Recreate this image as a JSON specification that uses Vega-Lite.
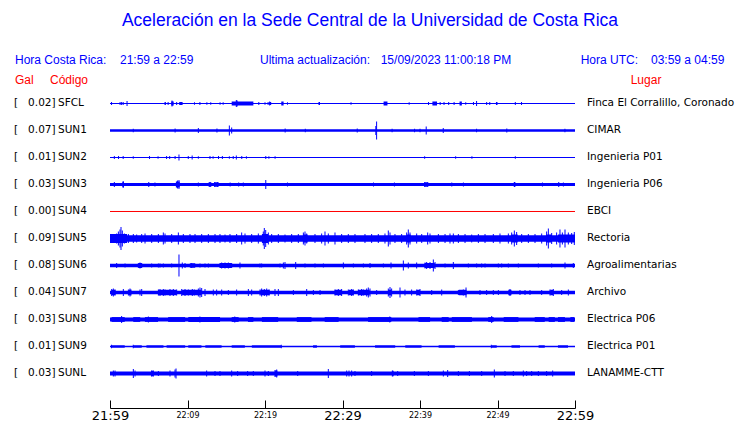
{
  "$schema": "https://vega.github.io/schema/vega-lite/v6.json",
  "width": 465,
  "height": 408,
  "autosize": {"type": "none"},
  "padding": {"left": 110, "right": 165, "top": 0, "bottom": 15},
  "background": "white",
  "config": {"view": {"stroke": null}},
  "datasets": {
    "stations": [
      {"s": "SFCL", "r": 0, "gal": "0.02", "place": "Finca El Corralillo, Coronado"},
      {"s": "SUN1", "r": 1, "gal": "0.07", "place": "CIMAR"},
      {"s": "SUN2", "r": 2, "gal": "0.01", "place": "Ingenieria P01"},
      {"s": "SUN3", "r": 3, "gal": "0.03", "place": "Ingenieria P06"},
      {"s": "SUN4", "r": 4, "gal": "0.00", "place": "EBCI"},
      {"s": "SUN5", "r": 5, "gal": "0.09", "place": "Rectoria"},
      {"s": "SUN6", "r": 6, "gal": "0.08", "place": "Agroalimentarias"},
      {"s": "SUN7", "r": 7, "gal": "0.04", "place": "Archivo"},
      {"s": "SUN8", "r": 8, "gal": "0.03", "place": "Electrica P06"},
      {"s": "SUN9", "r": 9, "gal": "0.01", "place": "Electrica P01"},
      {"s": "SUNL", "r": 10, "gal": "0.03", "place": "LANAMME-CTT"}
    ],
    "segs": [
      {"s": "SFCL", "t0": 0, "t1": 60, "w": 1.2},
      {"s": "SFCL", "t0": 15.7, "t1": 18.5, "w": 4},
      {"s": "SFCL", "t0": 7.1, "t1": 7.2, "w": 3},
      {"s": "SFCL", "t0": 7.9, "t1": 8.2, "w": 4},
      {"s": "SFCL", "t0": 9.0, "t1": 9.3, "w": 3},
      {"s": "SFCL", "t0": 20.6, "t1": 20.8, "w": 3},
      {"s": "SFCL", "t0": 22.1, "t1": 22.4, "w": 4},
      {"s": "SFCL", "t0": 26.9, "t1": 27.1, "w": 3},
      {"s": "SFCL", "t0": 35.3, "t1": 35.8, "w": 4},
      {"s": "SFCL", "t0": 41.6, "t1": 42.2, "w": 4},
      {"s": "SFCL", "t0": 45.1, "t1": 45.4, "w": 4},
      {"s": "SFCL", "t0": 49.8, "t1": 50.0, "w": 3},
      {"s": "SUN1", "t0": 0, "t1": 60, "w": 2.7},
      {"s": "SUN2", "t0": 0, "t1": 60, "w": 1.2},
      {"s": "SUN3", "t0": 0, "t1": 60, "w": 3},
      {"s": "SUN3", "t0": 1.6, "t1": 1.8, "w": 5},
      {"s": "SUN3", "t0": 8.5, "t1": 9.0, "w": 6},
      {"s": "SUN3", "t0": 12.8, "t1": 13.0, "w": 4.5},
      {"s": "SUN3", "t0": 13.5, "t1": 14.0, "w": 4.5},
      {"s": "SUN3", "t0": 40.6, "t1": 41.0, "w": 4.5},
      {"s": "SUN3", "t0": 52.1, "t1": 52.3, "w": 5},
      {"s": "SUN4", "t0": 0, "t1": 60, "w": 1},
      {"s": "SUN5", "t0": 0, "t1": 60, "w": 6.5},
      {"s": "SUN5", "t0": 0, "t1": 2.2, "w": 9},
      {"s": "SUN5", "t0": 19.6, "t1": 20.4, "w": 9},
      {"s": "SUN5", "t0": 24.9, "t1": 25.5, "w": 8},
      {"s": "SUN5", "t0": 38.3, "t1": 38.8, "w": 8},
      {"s": "SUN5", "t0": 51.8, "t1": 52.6, "w": 8},
      {"s": "SUN5", "t0": 56.3, "t1": 57.0, "w": 8},
      {"s": "SUN5", "t0": 57.8, "t1": 60, "w": 8},
      {"s": "SUN6", "t0": 0, "t1": 60, "w": 3.3},
      {"s": "SUN6", "t0": 3.7, "t1": 4.1, "w": 5},
      {"s": "SUN6", "t0": 10.3, "t1": 11.0, "w": 4.5},
      {"s": "SUN6", "t0": 14.2, "t1": 15.7, "w": 5},
      {"s": "SUN6", "t0": 40.6, "t1": 41.9, "w": 5},
      {"s": "SUN7", "t0": 0, "t1": 60, "w": 3.7},
      {"s": "SUN7", "t0": 0.2, "t1": 0.7, "w": 5.5},
      {"s": "SUN7", "t0": 2.4, "t1": 2.7, "w": 5.5},
      {"s": "SUN7", "t0": 6.2, "t1": 8.6, "w": 5.5},
      {"s": "SUN7", "t0": 9.3, "t1": 11.8, "w": 5.5},
      {"s": "SUN7", "t0": 19.4, "t1": 20.6, "w": 5.5},
      {"s": "SUN7", "t0": 29.0, "t1": 29.9, "w": 5.5},
      {"s": "SUN7", "t0": 30.8, "t1": 31.4, "w": 5.5},
      {"s": "SUN7", "t0": 32.0, "t1": 33.5, "w": 5.5},
      {"s": "SUN7", "t0": 35.9, "t1": 36.3, "w": 5.5},
      {"s": "SUN7", "t0": 39.6, "t1": 40.0, "w": 5.5},
      {"s": "SUN7", "t0": 45.0, "t1": 46.0, "w": 5.5},
      {"s": "SUN7", "t0": 51.4, "t1": 51.8, "w": 5.5},
      {"s": "SUN7", "t0": 56.8, "t1": 57.2, "w": 5.5},
      {"s": "SUN8", "t0": 0, "t1": 60, "w": 4},
      {"s": "SUN8", "t0": 0.2, "t1": 1.9, "w": 4.8},
      {"s": "SUN8", "t0": 3.0, "t1": 3.9, "w": 4.8},
      {"s": "SUN8", "t0": 4.5, "t1": 6.2, "w": 4.8},
      {"s": "SUN8", "t0": 7.5, "t1": 9.7, "w": 4.8},
      {"s": "SUN8", "t0": 10.1, "t1": 14.2, "w": 4.8},
      {"s": "SUN8", "t0": 15.7, "t1": 16.6, "w": 4.8},
      {"s": "SUN8", "t0": 17.8, "t1": 18.5, "w": 4.8},
      {"s": "SUN8", "t0": 19.6, "t1": 21.7, "w": 4.8},
      {"s": "SUN8", "t0": 24.1, "t1": 26.0, "w": 4.8},
      {"s": "SUN8", "t0": 27.7, "t1": 29.5, "w": 4.8},
      {"s": "SUN8", "t0": 33.3, "t1": 36.3, "w": 4.8},
      {"s": "SUN8", "t0": 39.8, "t1": 41.3, "w": 4.8},
      {"s": "SUN8", "t0": 42.8, "t1": 43.7, "w": 4.8},
      {"s": "SUN8", "t0": 44.1, "t1": 46.7, "w": 4.8},
      {"s": "SUN8", "t0": 48.8, "t1": 49.5, "w": 4.8},
      {"s": "SUN8", "t0": 50.8, "t1": 52.7, "w": 4.8},
      {"s": "SUN8", "t0": 54.8, "t1": 56.1, "w": 4.8},
      {"s": "SUN8", "t0": 56.6, "t1": 57.4, "w": 4.8},
      {"s": "SUN8", "t0": 57.8, "t1": 58.7, "w": 4.8},
      {"s": "SUN8", "t0": 59.4, "t1": 59.9, "w": 4.8},
      {"s": "SUN9", "t0": 0, "t1": 60, "w": 1.4},
      {"s": "SUN9", "t0": 0.2, "t1": 1.9, "w": 2.4},
      {"s": "SUN9", "t0": 3.0, "t1": 4.1, "w": 2.4},
      {"s": "SUN9", "t0": 4.7, "t1": 6.9, "w": 2.4},
      {"s": "SUN9", "t0": 7.3, "t1": 9.7, "w": 2.4},
      {"s": "SUN9", "t0": 10.1, "t1": 11.8, "w": 2.4},
      {"s": "SUN9", "t0": 12.3, "t1": 14.4, "w": 2.4},
      {"s": "SUN9", "t0": 15.7, "t1": 17.4, "w": 2.4},
      {"s": "SUN9", "t0": 18.3, "t1": 22.1, "w": 2.4},
      {"s": "SUN9", "t0": 26.2, "t1": 26.7, "w": 2.4},
      {"s": "SUN9", "t0": 29.7, "t1": 31.6, "w": 2.4},
      {"s": "SUN9", "t0": 34.2, "t1": 36.8, "w": 2.4},
      {"s": "SUN9", "t0": 38.1, "t1": 40.2, "w": 2.4},
      {"s": "SUN9", "t0": 42.4, "t1": 44.5, "w": 2.4},
      {"s": "SUN9", "t0": 49.2, "t1": 49.9, "w": 2.4},
      {"s": "SUN9", "t0": 51.8, "t1": 52.9, "w": 2.4},
      {"s": "SUN9", "t0": 55.3, "t1": 56.1, "w": 2.4},
      {"s": "SUN9", "t0": 57.8, "t1": 59.1, "w": 2.4},
      {"s": "SUNL", "t0": 0, "t1": 60, "w": 4},
      {"s": "SUNL", "t0": 5.3, "t1": 5.6, "w": 5.5},
      {"s": "SUNL", "t0": 21.3, "t1": 21.6, "w": 6},
      {"s": "SUNL", "t0": 36.4, "t1": 36.6, "w": 5.5}
    ],
    "ticks": [
      {"s": "SFCL", "t": 0.2, "a": 3}, {"s": "SFCL", "t": 1.3, "a": 3}, {"s": "SFCL", "t": 1.5, "a": 3}, {"s": "SFCL", "t": 1.7, "a": 3},
      {"s": "SFCL", "t": 2.2, "a": 5}, {"s": "SFCL", "t": 7.1, "a": 3}, {"s": "SFCL", "t": 7.5, "a": 3}, {"s": "SFCL", "t": 8.0, "a": 6},
      {"s": "SFCL", "t": 8.1, "a": 4}, {"s": "SFCL", "t": 8.6, "a": 3}, {"s": "SFCL", "t": 9.0, "a": 3}, {"s": "SFCL", "t": 9.3, "a": 3},
      {"s": "SFCL", "t": 10.9, "a": 2.5}, {"s": "SFCL", "t": 11.6, "a": 3}, {"s": "SFCL", "t": 12.5, "a": 2.5}, {"s": "SFCL", "t": 13.0, "a": 2.5},
      {"s": "SFCL", "t": 14.2, "a": 2.5}, {"s": "SFCL", "t": 14.6, "a": 2.5}, {"s": "SFCL", "t": 16.3, "a": 7}, {"s": "SFCL", "t": 16.4, "a": 6},
      {"s": "SFCL", "t": 19.2, "a": 3}, {"s": "SFCL", "t": 20.0, "a": 2.5}, {"s": "SFCL", "t": 20.4, "a": 3}, {"s": "SFCL", "t": 20.6, "a": 4},
      {"s": "SFCL", "t": 22.9, "a": 2.5}, {"s": "SFCL", "t": 31.1, "a": 2.5}, {"s": "SFCL", "t": 38.6, "a": 2.5}, {"s": "SFCL", "t": 41.1, "a": 3},
      {"s": "SFCL", "t": 42.6, "a": 3}, {"s": "SFCL", "t": 43.1, "a": 3}, {"s": "SFCL", "t": 43.7, "a": 3}, {"s": "SFCL", "t": 44.4, "a": 3},
      {"s": "SFCL", "t": 45.9, "a": 2.5}, {"s": "SFCL", "t": 46.9, "a": 3}, {"s": "SFCL", "t": 47.3, "a": 5}, {"s": "SFCL", "t": 48.6, "a": 3},
      {"s": "SFCL", "t": 49.0, "a": 3}, {"s": "SFCL", "t": 52.3, "a": 3}, {"s": "SFCL", "t": 53.1, "a": 3},
      {"s": "SUN1", "t": 3.0, "a": 3.5}, {"s": "SUN1", "t": 8.4, "a": 4}, {"s": "SUN1", "t": 11.4, "a": 5}, {"s": "SUN1", "t": 13.8, "a": 4},
      {"s": "SUN1", "t": 15.4, "a": 10}, {"s": "SUN1", "t": 15.7, "a": 6}, {"s": "SUN1", "t": 22.6, "a": 4}, {"s": "SUN1", "t": 25.2, "a": 3.5},
      {"s": "SUN1", "t": 31.9, "a": 4}, {"s": "SUN1", "t": 34.3, "a": 9}, {"s": "SUN1", "t": 34.4, "a": 18}, {"s": "SUN1", "t": 36.4, "a": 3.5},
      {"s": "SUN1", "t": 39.3, "a": 3.5}, {"s": "SUN1", "t": 40.0, "a": 3.5}, {"s": "SUN1", "t": 40.8, "a": 8}, {"s": "SUN1", "t": 43.0, "a": 5},
      {"s": "SUN1", "t": 47.3, "a": 3.5}, {"s": "SUN1", "t": 51.2, "a": 4}, {"s": "SUN1", "t": 58.7, "a": 3.5},
      {"s": "SUN2", "t": 0.56, "a": 3}, {"s": "SUN2", "t": 1.1, "a": 3}, {"s": "SUN2", "t": 1.7, "a": 3}, {"s": "SUN2", "t": 3.0, "a": 2.5},
      {"s": "SUN2", "t": 5.1, "a": 3}, {"s": "SUN2", "t": 6.2, "a": 2.5}, {"s": "SUN2", "t": 7.3, "a": 3}, {"s": "SUN2", "t": 7.7, "a": 3},
      {"s": "SUN2", "t": 8.4, "a": 3}, {"s": "SUN2", "t": 8.9, "a": 6}, {"s": "SUN2", "t": 10.1, "a": 3}, {"s": "SUN2", "t": 10.6, "a": 4},
      {"s": "SUN2", "t": 11.4, "a": 2.5}, {"s": "SUN2", "t": 12.9, "a": 3}, {"s": "SUN2", "t": 13.3, "a": 2.5}, {"s": "SUN2", "t": 14.0, "a": 3},
      {"s": "SUN2", "t": 14.5, "a": 3}, {"s": "SUN2", "t": 15.4, "a": 2.5}, {"s": "SUN2", "t": 15.9, "a": 3}, {"s": "SUN2", "t": 16.3, "a": 4},
      {"s": "SUN2", "t": 17.0, "a": 3}, {"s": "SUN2", "t": 17.6, "a": 2.5}, {"s": "SUN2", "t": 20.1, "a": 3}, {"s": "SUN2", "t": 20.5, "a": 2.5},
      {"s": "SUN2", "t": 21.3, "a": 2.5}, {"s": "SUN2", "t": 40.6, "a": 2.5}, {"s": "SUN2", "t": 44.6, "a": 2.5}, {"s": "SUN2", "t": 46.7, "a": 2.5},
      {"s": "SUN2", "t": 52.3, "a": 2.5},
      {"s": "SUN3", "t": 0.56, "a": 5}, {"s": "SUN3", "t": 1.7, "a": 7}, {"s": "SUN3", "t": 5.0, "a": 5}, {"s": "SUN3", "t": 5.8, "a": 4},
      {"s": "SUN3", "t": 8.7, "a": 8}, {"s": "SUN3", "t": 8.9, "a": 9}, {"s": "SUN3", "t": 11.4, "a": 4}, {"s": "SUN3", "t": 12.8, "a": 5},
      {"s": "SUN3", "t": 13.0, "a": 5}, {"s": "SUN3", "t": 13.5, "a": 5}, {"s": "SUN3", "t": 13.9, "a": 5}, {"s": "SUN3", "t": 15.5, "a": 4},
      {"s": "SUN3", "t": 16.6, "a": 4}, {"s": "SUN3", "t": 17.2, "a": 4}, {"s": "SUN3", "t": 20.1, "a": 9}, {"s": "SUN3", "t": 22.9, "a": 4},
      {"s": "SUN3", "t": 34.0, "a": 4}, {"s": "SUN3", "t": 36.7, "a": 4}, {"s": "SUN3", "t": 40.6, "a": 5}, {"s": "SUN3", "t": 41.0, "a": 5},
      {"s": "SUN3", "t": 44.1, "a": 4}, {"s": "SUN3", "t": 45.6, "a": 4}, {"s": "SUN3", "t": 52.2, "a": 5}, {"s": "SUN3", "t": 55.8, "a": 4},
      {"s": "SUN3", "t": 57.9, "a": 5}, {"s": "SUN3", "t": 58.5, "a": 4},
      {"s": "SUN5", "t": 0.43, "a": 8}, {"s": "SUN5", "t": 0.86, "a": 10}, {"s": "SUN5", "t": 1.08, "a": 14}, {"s": "SUN5", "t": 1.29, "a": 18},
      {"s": "SUN5", "t": 1.42, "a": 23}, {"s": "SUN5", "t": 1.59, "a": 16}, {"s": "SUN5", "t": 1.85, "a": 10}, {"s": "SUN5", "t": 2.37, "a": 9},
      {"s": "SUN5", "t": 3.01, "a": 9}, {"s": "SUN5", "t": 3.44, "a": 8}, {"s": "SUN5", "t": 4.09, "a": 9}, {"s": "SUN5", "t": 4.52, "a": 10},
      {"s": "SUN5", "t": 5.38, "a": 9}, {"s": "SUN5", "t": 6.24, "a": 9}, {"s": "SUN5", "t": 6.88, "a": 12}, {"s": "SUN5", "t": 7.10, "a": 10},
      {"s": "SUN5", "t": 7.96, "a": 9}, {"s": "SUN5", "t": 8.82, "a": 12}, {"s": "SUN5", "t": 9.46, "a": 9}, {"s": "SUN5", "t": 10.32, "a": 9},
      {"s": "SUN5", "t": 10.97, "a": 9}, {"s": "SUN5", "t": 11.83, "a": 9}, {"s": "SUN5", "t": 12.69, "a": 9}, {"s": "SUN5", "t": 13.55, "a": 9},
      {"s": "SUN5", "t": 14.19, "a": 9}, {"s": "SUN5", "t": 14.84, "a": 8}, {"s": "SUN5", "t": 15.48, "a": 9}, {"s": "SUN5", "t": 16.34, "a": 9},
      {"s": "SUN5", "t": 16.99, "a": 12}, {"s": "SUN5", "t": 17.42, "a": 10}, {"s": "SUN5", "t": 18.28, "a": 9}, {"s": "SUN5", "t": 19.14, "a": 10},
      {"s": "SUN5", "t": 19.78, "a": 14}, {"s": "SUN5", "t": 19.91, "a": 21}, {"s": "SUN5", "t": 20.09, "a": 17}, {"s": "SUN5", "t": 20.43, "a": 12},
      {"s": "SUN5", "t": 20.86, "a": 9}, {"s": "SUN5", "t": 21.72, "a": 9}, {"s": "SUN5", "t": 22.58, "a": 8}, {"s": "SUN5", "t": 23.44, "a": 9},
      {"s": "SUN5", "t": 24.30, "a": 9}, {"s": "SUN5", "t": 24.95, "a": 12}, {"s": "SUN5", "t": 25.16, "a": 14}, {"s": "SUN5", "t": 25.38, "a": 10},
      {"s": "SUN5", "t": 26.45, "a": 9}, {"s": "SUN5", "t": 27.31, "a": 10}, {"s": "SUN5", "t": 27.74, "a": 14}, {"s": "SUN5", "t": 28.17, "a": 10},
      {"s": "SUN5", "t": 29.03, "a": 12}, {"s": "SUN5", "t": 29.89, "a": 9}, {"s": "SUN5", "t": 30.75, "a": 9}, {"s": "SUN5", "t": 31.61, "a": 9},
      {"s": "SUN5", "t": 32.90, "a": 9}, {"s": "SUN5", "t": 33.76, "a": 9}, {"s": "SUN5", "t": 34.62, "a": 9}, {"s": "SUN5", "t": 35.48, "a": 10},
      {"s": "SUN5", "t": 35.91, "a": 16}, {"s": "SUN5", "t": 36.13, "a": 12}, {"s": "SUN5", "t": 36.77, "a": 9}, {"s": "SUN5", "t": 37.63, "a": 9},
      {"s": "SUN5", "t": 38.28, "a": 12}, {"s": "SUN5", "t": 38.49, "a": 18}, {"s": "SUN5", "t": 38.71, "a": 12}, {"s": "SUN5", "t": 39.57, "a": 10},
      {"s": "SUN5", "t": 40.22, "a": 9}, {"s": "SUN5", "t": 40.99, "a": 12}, {"s": "SUN5", "t": 41.29, "a": 10}, {"s": "SUN5", "t": 42.37, "a": 9},
      {"s": "SUN5", "t": 43.23, "a": 9}, {"s": "SUN5", "t": 43.87, "a": 10}, {"s": "SUN5", "t": 44.30, "a": 10}, {"s": "SUN5", "t": 44.95, "a": 9},
      {"s": "SUN5", "t": 45.81, "a": 9}, {"s": "SUN5", "t": 46.67, "a": 8}, {"s": "SUN5", "t": 47.53, "a": 9}, {"s": "SUN5", "t": 48.39, "a": 9},
      {"s": "SUN5", "t": 49.46, "a": 9}, {"s": "SUN5", "t": 50.32, "a": 10}, {"s": "SUN5", "t": 51.40, "a": 10}, {"s": "SUN5", "t": 51.83, "a": 12},
      {"s": "SUN5", "t": 52.17, "a": 16}, {"s": "SUN5", "t": 52.47, "a": 13}, {"s": "SUN5", "t": 53.12, "a": 9}, {"s": "SUN5", "t": 53.98, "a": 9},
      {"s": "SUN5", "t": 54.84, "a": 9}, {"s": "SUN5", "t": 55.70, "a": 10}, {"s": "SUN5", "t": 56.34, "a": 14}, {"s": "SUN5", "t": 56.56, "a": 20},
      {"s": "SUN5", "t": 56.99, "a": 11}, {"s": "SUN5", "t": 57.63, "a": 12}, {"s": "SUN5", "t": 58.06, "a": 18}, {"s": "SUN5", "t": 58.37, "a": 12},
      {"s": "SUN5", "t": 58.71, "a": 18}, {"s": "SUN5", "t": 59.14, "a": 12}, {"s": "SUN5", "t": 59.57, "a": 11}, {"s": "SUN5", "t": 59.91, "a": 13},
      {"s": "SUN6", "t": 0.86, "a": 5}, {"s": "SUN6", "t": 1.94, "a": 4}, {"s": "SUN6", "t": 3.66, "a": 5}, {"s": "SUN6", "t": 3.87, "a": 6},
      {"s": "SUN6", "t": 4.09, "a": 5}, {"s": "SUN6", "t": 5.38, "a": 4}, {"s": "SUN6", "t": 6.24, "a": 4}, {"s": "SUN6", "t": 6.45, "a": 4},
      {"s": "SUN6", "t": 6.88, "a": 4}, {"s": "SUN6", "t": 7.96, "a": 4}, {"s": "SUN6", "t": 8.90, "a": 22}, {"s": "SUN6", "t": 9.33, "a": 6},
      {"s": "SUN6", "t": 9.68, "a": 5}, {"s": "SUN6", "t": 10.54, "a": 5}, {"s": "SUN6", "t": 11.61, "a": 4}, {"s": "SUN6", "t": 12.26, "a": 4},
      {"s": "SUN6", "t": 12.69, "a": 4}, {"s": "SUN6", "t": 14.19, "a": 5}, {"s": "SUN6", "t": 14.41, "a": 6}, {"s": "SUN6", "t": 14.84, "a": 6},
      {"s": "SUN6", "t": 15.27, "a": 6}, {"s": "SUN6", "t": 15.70, "a": 5}, {"s": "SUN6", "t": 16.77, "a": 6}, {"s": "SUN6", "t": 19.35, "a": 4},
      {"s": "SUN6", "t": 19.57, "a": 4}, {"s": "SUN6", "t": 21.94, "a": 4}, {"s": "SUN6", "t": 22.37, "a": 6}, {"s": "SUN6", "t": 22.58, "a": 7},
      {"s": "SUN6", "t": 23.96, "a": 7}, {"s": "SUN6", "t": 25.16, "a": 4}, {"s": "SUN6", "t": 26.45, "a": 4}, {"s": "SUN6", "t": 27.53, "a": 4},
      {"s": "SUN6", "t": 30.11, "a": 6}, {"s": "SUN6", "t": 31.40, "a": 4}, {"s": "SUN6", "t": 32.69, "a": 4}, {"s": "SUN6", "t": 33.55, "a": 5},
      {"s": "SUN6", "t": 35.27, "a": 4}, {"s": "SUN6", "t": 36.26, "a": 6}, {"s": "SUN6", "t": 37.85, "a": 10}, {"s": "SUN6", "t": 38.49, "a": 6},
      {"s": "SUN6", "t": 39.57, "a": 6}, {"s": "SUN6", "t": 40.65, "a": 6}, {"s": "SUN6", "t": 40.86, "a": 7}, {"s": "SUN6", "t": 41.29, "a": 7},
      {"s": "SUN6", "t": 41.72, "a": 12}, {"s": "SUN6", "t": 41.94, "a": 7}, {"s": "SUN6", "t": 43.23, "a": 4}, {"s": "SUN6", "t": 44.30, "a": 7},
      {"s": "SUN6", "t": 46.24, "a": 4}, {"s": "SUN6", "t": 47.31, "a": 4}, {"s": "SUN6", "t": 47.96, "a": 4}, {"s": "SUN6", "t": 48.39, "a": 4},
      {"s": "SUN6", "t": 50.11, "a": 4}, {"s": "SUN6", "t": 50.54, "a": 4}, {"s": "SUN6", "t": 51.40, "a": 4}, {"s": "SUN6", "t": 52.69, "a": 4},
      {"s": "SUN6", "t": 55.27, "a": 4}, {"s": "SUN6", "t": 56.99, "a": 4}, {"s": "SUN6", "t": 58.71, "a": 6}, {"s": "SUN6", "t": 59.78, "a": 5},
      {"s": "SUN7", "t": 0.22, "a": 7}, {"s": "SUN7", "t": 0.43, "a": 8}, {"s": "SUN7", "t": 0.65, "a": 6}, {"s": "SUN7", "t": 1.72, "a": 7},
      {"s": "SUN7", "t": 2.37, "a": 6}, {"s": "SUN7", "t": 2.58, "a": 8}, {"s": "SUN7", "t": 2.71, "a": 6}, {"s": "SUN7", "t": 3.87, "a": 6},
      {"s": "SUN7", "t": 4.09, "a": 7}, {"s": "SUN7", "t": 6.24, "a": 6}, {"s": "SUN7", "t": 6.45, "a": 7}, {"s": "SUN7", "t": 6.88, "a": 7},
      {"s": "SUN7", "t": 7.10, "a": 6}, {"s": "SUN7", "t": 7.74, "a": 7}, {"s": "SUN7", "t": 8.17, "a": 7}, {"s": "SUN7", "t": 8.60, "a": 6},
      {"s": "SUN7", "t": 9.25, "a": 7}, {"s": "SUN7", "t": 9.68, "a": 7}, {"s": "SUN7", "t": 10.11, "a": 6}, {"s": "SUN7", "t": 10.62, "a": 7},
      {"s": "SUN7", "t": 10.88, "a": 6}, {"s": "SUN7", "t": 11.40, "a": 8}, {"s": "SUN7", "t": 11.61, "a": 10}, {"s": "SUN7", "t": 11.83, "a": 9},
      {"s": "SUN7", "t": 12.26, "a": 7}, {"s": "SUN7", "t": 13.33, "a": 6}, {"s": "SUN7", "t": 13.76, "a": 6}, {"s": "SUN7", "t": 14.41, "a": 6},
      {"s": "SUN7", "t": 15.27, "a": 5}, {"s": "SUN7", "t": 16.34, "a": 6}, {"s": "SUN7", "t": 17.85, "a": 7}, {"s": "SUN7", "t": 18.28, "a": 6},
      {"s": "SUN7", "t": 19.35, "a": 6}, {"s": "SUN7", "t": 19.57, "a": 8}, {"s": "SUN7", "t": 19.91, "a": 7}, {"s": "SUN7", "t": 20.22, "a": 8},
      {"s": "SUN7", "t": 20.52, "a": 6}, {"s": "SUN7", "t": 21.29, "a": 7}, {"s": "SUN7", "t": 21.72, "a": 7}, {"s": "SUN7", "t": 23.66, "a": 5},
      {"s": "SUN7", "t": 25.38, "a": 7}, {"s": "SUN7", "t": 26.24, "a": 5}, {"s": "SUN7", "t": 27.10, "a": 5}, {"s": "SUN7", "t": 29.03, "a": 6},
      {"s": "SUN7", "t": 29.46, "a": 7}, {"s": "SUN7", "t": 29.89, "a": 7}, {"s": "SUN7", "t": 30.75, "a": 6}, {"s": "SUN7", "t": 31.18, "a": 7},
      {"s": "SUN7", "t": 31.40, "a": 6}, {"s": "SUN7", "t": 32.04, "a": 6}, {"s": "SUN7", "t": 32.47, "a": 7}, {"s": "SUN7", "t": 32.69, "a": 6},
      {"s": "SUN7", "t": 33.12, "a": 8}, {"s": "SUN7", "t": 33.33, "a": 10}, {"s": "SUN7", "t": 33.55, "a": 8}, {"s": "SUN7", "t": 34.41, "a": 5},
      {"s": "SUN7", "t": 35.91, "a": 8}, {"s": "SUN7", "t": 36.13, "a": 11}, {"s": "SUN7", "t": 36.34, "a": 8}, {"s": "SUN7", "t": 37.42, "a": 10},
      {"s": "SUN7", "t": 38.06, "a": 6}, {"s": "SUN7", "t": 38.92, "a": 6}, {"s": "SUN7", "t": 39.57, "a": 6}, {"s": "SUN7", "t": 40.00, "a": 7},
      {"s": "SUN7", "t": 41.51, "a": 5}, {"s": "SUN7", "t": 42.80, "a": 6}, {"s": "SUN7", "t": 44.95, "a": 5}, {"s": "SUN7", "t": 45.59, "a": 6},
      {"s": "SUN7", "t": 45.94, "a": 10}, {"s": "SUN7", "t": 47.74, "a": 5}, {"s": "SUN7", "t": 48.60, "a": 5}, {"s": "SUN7", "t": 49.46, "a": 5},
      {"s": "SUN7", "t": 50.11, "a": 5}, {"s": "SUN7", "t": 51.61, "a": 7}, {"s": "SUN7", "t": 52.90, "a": 5}, {"s": "SUN7", "t": 53.55, "a": 5},
      {"s": "SUN7", "t": 54.19, "a": 5}, {"s": "SUN7", "t": 55.70, "a": 5}, {"s": "SUN7", "t": 56.77, "a": 6}, {"s": "SUN7", "t": 57.20, "a": 7},
      {"s": "SUN7", "t": 58.28, "a": 5}, {"s": "SUN7", "t": 59.14, "a": 6},
      {"s": "SUN8", "t": 1.5, "a": 7}, {"s": "SUN8", "t": 4.95, "a": 6}, {"s": "SUN8", "t": 11.6, "a": 6}, {"s": "SUN8", "t": 16.1, "a": 6},
      {"s": "SUN8", "t": 36.1, "a": 6}, {"s": "SUN8", "t": 49.25, "a": 7},
      {"s": "SUN9", "t": 0.2, "a": 3.5}, {"s": "SUN9", "t": 3.0, "a": 3.5}, {"s": "SUN9", "t": 22.1, "a": 3.5}, {"s": "SUN9", "t": 49.2, "a": 3.5},
      {"s": "SUNL", "t": 0.43, "a": 6}, {"s": "SUNL", "t": 0.65, "a": 6}, {"s": "SUNL", "t": 3.01, "a": 9}, {"s": "SUNL", "t": 3.23, "a": 6},
      {"s": "SUNL", "t": 5.38, "a": 6}, {"s": "SUNL", "t": 5.59, "a": 6}, {"s": "SUNL", "t": 6.24, "a": 5}, {"s": "SUNL", "t": 7.74, "a": 6},
      {"s": "SUNL", "t": 8.39, "a": 8}, {"s": "SUNL", "t": 8.52, "a": 10}, {"s": "SUNL", "t": 12.47, "a": 6}, {"s": "SUNL", "t": 13.55, "a": 5},
      {"s": "SUNL", "t": 14.19, "a": 5}, {"s": "SUNL", "t": 15.70, "a": 6}, {"s": "SUNL", "t": 16.47, "a": 5}, {"s": "SUNL", "t": 17.76, "a": 5},
      {"s": "SUNL", "t": 18.49, "a": 5}, {"s": "SUNL", "t": 20.00, "a": 6}, {"s": "SUNL", "t": 20.43, "a": 5}, {"s": "SUNL", "t": 21.29, "a": 7},
      {"s": "SUNL", "t": 21.51, "a": 8}, {"s": "SUNL", "t": 24.22, "a": 5}, {"s": "SUNL", "t": 28.17, "a": 9}, {"s": "SUNL", "t": 30.54, "a": 6},
      {"s": "SUNL", "t": 30.84, "a": 6}, {"s": "SUNL", "t": 31.18, "a": 6}, {"s": "SUNL", "t": 31.61, "a": 5}, {"s": "SUNL", "t": 33.76, "a": 5},
      {"s": "SUNL", "t": 36.43, "a": 6}, {"s": "SUNL", "t": 37.12, "a": 5}, {"s": "SUNL", "t": 39.27, "a": 5}, {"s": "SUNL", "t": 41.08, "a": 5},
      {"s": "SUNL", "t": 43.01, "a": 6}, {"s": "SUNL", "t": 43.57, "a": 7}, {"s": "SUNL", "t": 44.95, "a": 5}, {"s": "SUNL", "t": 46.37, "a": 5},
      {"s": "SUNL", "t": 47.96, "a": 5}, {"s": "SUNL", "t": 49.59, "a": 8}, {"s": "SUNL", "t": 50.97, "a": 5}, {"s": "SUNL", "t": 52.04, "a": 5},
      {"s": "SUNL", "t": 53.33, "a": 6}, {"s": "SUNL", "t": 53.76, "a": 5}, {"s": "SUNL", "t": 54.41, "a": 5}, {"s": "SUNL", "t": 55.27, "a": 5},
      {"s": "SUNL", "t": 56.34, "a": 5}, {"s": "SUNL", "t": 57.12, "a": 6}
    ]
  },
  "layer": [
    {
      "data": {"name": "segs"},
      "transform": [{"lookup": "s", "from": {"data": {"name": "stations"}, "key": "s", "fields": ["r"]}}],
      "mark": {"type": "rule", "strokeCap": "butt"},
      "encoding": {
        "x": {
          "field": "t0", "type": "quantitative",
          "scale": {"domain": [0, 60], "nice": false, "zero": false},
          "axis": {
            "title": null,
            "values": [0, 5, 10, 15, 20, 25, 30, 35, 40, 45, 50, 55, 60],
            "grid": false,
            "domainColor": "#000000", "domainWidth": 1,
            "tickColor": "#000000", "tickWidth": 1, "tickSize": -8,
            "labelFont": "DejaVu Sans", "labelColor": "#000000",
            "labelFontSize": {"condition": {"test": "datum.value % 30 === 0", "value": 13}, "value": 8},
            "labelPadding": 15,
            "labelBaseline": "middle",
            "labelOverlap": false,
            "labelFlush": false,
            "labelExpr": "datum.value % 10 != 0 ? '' : (floor((1319 + datum.value) / 60) + ':' + (((1319 + datum.value) % 60) < 10 ? '0' : '') + ((1319 + datum.value) % 60))"
          }
        },
        "x2": {"field": "t1"},
        "y": {
          "field": "r", "type": "quantitative",
          "scale": {"domain": [-3.8333, 11.2778], "nice": false, "zero": false, "reverse": true},
          "axis": null
        },
        "strokeWidth": {"field": "w", "type": "quantitative", "scale": {"domain": [0, 20], "range": [0, 20]}, "legend": null},
        "color": {"condition": {"test": "datum.s === 'SUN4'", "value": "#ff0000"}, "value": "#0000ff"}
      }
    },
    {
      "data": {"name": "ticks"},
      "transform": [{"lookup": "s", "from": {"data": {"name": "stations"}, "key": "s", "fields": ["r"]}}],
      "mark": {"type": "tick", "orient": "vertical", "thickness": 1, "opacity": 1},
      "encoding": {
        "x": {"field": "t", "type": "quantitative"},
        "y": {"field": "r", "type": "quantitative"},
        "size": {"field": "a", "type": "quantitative", "scale": {"domain": [0, 30], "range": [0, 30]}, "legend": null},
        "color": {"value": "#0000ff"}
      }
    },
    {
      "data": {"name": "stations"},
      "mark": {"type": "text", "text": "[", "align": "left", "baseline": "middle", "dx": -96, "font": "DejaVu Sans", "fontSize": 10.5, "color": "#000000"},
      "encoding": {"x": {"datum": 0}, "y": {"field": "r", "type": "quantitative"}}
    },
    {
      "data": {"name": "stations"},
      "mark": {"type": "text", "align": "right", "baseline": "middle", "dx": -58.5, "font": "DejaVu Sans", "fontSize": 10.5, "color": "#000000"},
      "encoding": {"x": {"datum": 0}, "y": {"field": "r", "type": "quantitative"}, "text": {"field": "gal"}}
    },
    {
      "data": {"name": "stations"},
      "mark": {"type": "text", "text": "]", "align": "left", "baseline": "middle", "dx": -58.5, "font": "DejaVu Sans", "fontSize": 10.5, "color": "#000000"},
      "encoding": {"x": {"datum": 0}, "y": {"field": "r", "type": "quantitative"}}
    },
    {
      "data": {"name": "stations"},
      "mark": {"type": "text", "align": "left", "baseline": "middle", "dx": -52, "font": "DejaVu Sans", "fontSize": 10.5, "color": "#000000"},
      "encoding": {"x": {"datum": 0}, "y": {"field": "r", "type": "quantitative"}, "text": {"field": "s"}}
    },
    {
      "data": {"name": "stations"},
      "mark": {"type": "text", "align": "left", "baseline": "middle", "dx": 12, "font": "DejaVu Sans", "fontSize": 10.5, "color": "#000000"},
      "encoding": {"x": {"datum": 60}, "y": {"field": "r", "type": "quantitative"}, "text": {"field": "place"}}
    },
    {
      "data": {"values": [{}]},
      "mark": {"type": "text", "text": "Aceleración en la Sede Central de la Universidad de Costa Rica", "align": "center", "baseline": "middle", "dx": 27.5, "font": "Liberation Sans", "fontSize": 17.5, "color": "#0000ff"},
      "encoding": {"x": {"datum": 30}, "y": {"datum": -3.056}}
    },
    {
      "data": {"values": [{}]},
      "mark": {"type": "text", "text": "Hora Costa Rica:", "align": "left", "baseline": "middle", "dx": -95, "font": "Liberation Sans", "fontSize": 12, "color": "#0000ff"},
      "encoding": {"x": {"datum": 0}, "y": {"datum": -1.611}}
    },
    {
      "data": {"values": [{}]},
      "mark": {"type": "text", "text": "21:59 a 22:59", "align": "left", "baseline": "middle", "dx": 10, "font": "Liberation Sans", "fontSize": 12, "color": "#0000ff"},
      "encoding": {"x": {"datum": 0}, "y": {"datum": -1.611}}
    },
    {
      "data": {"values": [{}]},
      "mark": {"type": "text", "text": "Ultima actualización:", "align": "left", "baseline": "middle", "dx": 150, "font": "Liberation Sans", "fontSize": 12, "color": "#0000ff"},
      "encoding": {"x": {"datum": 0}, "y": {"datum": -1.611}}
    },
    {
      "data": {"values": [{}]},
      "mark": {"type": "text", "text": "15/09/2023 11:00:18 PM", "align": "left", "baseline": "middle", "dx": 270.7, "font": "Liberation Sans", "fontSize": 12, "color": "#0000ff"},
      "encoding": {"x": {"datum": 0}, "y": {"datum": -1.611}}
    },
    {
      "data": {"values": [{}]},
      "mark": {"type": "text", "text": "Hora UTC:", "align": "left", "baseline": "middle", "dx": 5.7, "font": "Liberation Sans", "fontSize": 12, "color": "#0000ff"},
      "encoding": {"x": {"datum": 60}, "y": {"datum": -1.611}}
    },
    {
      "data": {"values": [{}]},
      "mark": {"type": "text", "text": "03:59 a 04:59", "align": "left", "baseline": "middle", "dx": 76, "font": "Liberation Sans", "fontSize": 12, "color": "#0000ff"},
      "encoding": {"x": {"datum": 60}, "y": {"datum": -1.611}}
    },
    {
      "data": {"values": [{}]},
      "mark": {"type": "text", "text": "Gal", "align": "left", "baseline": "middle", "dx": -95, "font": "Liberation Sans", "fontSize": 12, "color": "#ff0000"},
      "encoding": {"x": {"datum": 0}, "y": {"datum": -0.870}}
    },
    {
      "data": {"values": [{}]},
      "mark": {"type": "text", "text": "Código", "align": "left", "baseline": "middle", "dx": -60, "font": "Liberation Sans", "fontSize": 12, "color": "#ff0000"},
      "encoding": {"x": {"datum": 0}, "y": {"datum": -0.870}}
    },
    {
      "data": {"values": [{}]},
      "mark": {"type": "text", "text": "Lugar", "align": "left", "baseline": "middle", "dx": 55.7, "font": "Liberation Sans", "fontSize": 12, "color": "#ff0000"},
      "encoding": {"x": {"datum": 60}, "y": {"datum": -0.870}}
    }
  ]
}
